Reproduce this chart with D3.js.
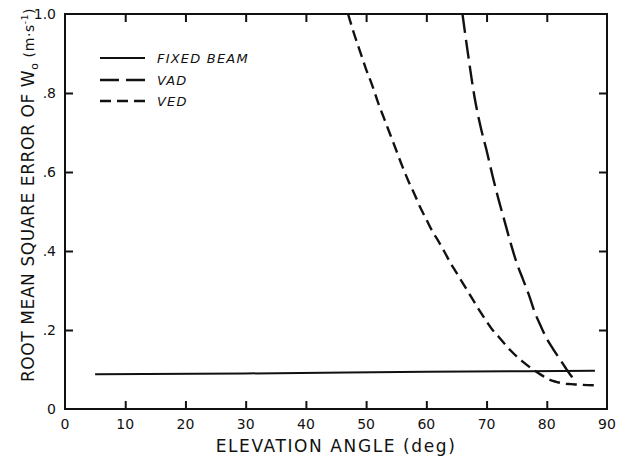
<!DOCTYPE html>
<html>
<head>
<meta charset="utf-8">
<script src="https://cdn.jsdelivr.net/npm/d3@7"></script>
<style>
  body { margin: 0; background: #fff; }
  svg { display: block; }
  text { font-family: "DejaVu Sans", sans-serif; fill: #111; }
</style>
</head>
<body>
<svg id="chart" width="618" height="456"></svg>
<script>
// elevation angle (deg) and rms error (m/s)
var fixedElev = [5, 30, 60, 88];
var fixedErr = [0.088, 0.090, 0.094, 0.097];

var vadElev = [66, 67, 68, 69, 70, 71, 72, 73, 74, 75, 76, 77, 78, 79, 80, 81, 82, 83, 84, 84.5];
var vadErr = [1.0, 0.89, 0.79, 0.715, 0.655, 0.59, 0.53, 0.475, 0.42, 0.37, 0.33, 0.29, 0.245, 0.21, 0.178, 0.153, 0.13, 0.107, 0.085, 0.076];

var vedElev = [47, 48, 49, 50, 51, 52, 53, 54, 55, 56, 57, 58, 59, 60, 61, 62, 63, 64, 65, 66, 67, 68, 69, 70,
               71, 72, 73, 74, 75, 76, 77, 78, 79, 80, 81, 82, 83, 84, 86, 88];
var vedErr = [1.0, 0.95, 0.905, 0.86, 0.82, 0.775, 0.735, 0.695, 0.655, 0.615, 0.578, 0.545, 0.51, 0.48, 0.45, 0.425,
              0.398, 0.37, 0.345, 0.32, 0.295, 0.27, 0.245, 0.222, 0.2, 0.183, 0.165, 0.148, 0.133, 0.12, 0.108, 0.097,
              0.087, 0.078, 0.071, 0.067, 0.064, 0.063, 0.061, 0.06];

var xTicks = [0, 10, 20, 30, 40, 50, 60, 70, 80, 90];
var yTicks = [0, 0.2, 0.4, 0.6, 0.8, 1.0];
var yTickLabels = ['0', '.2', '.4', '.6', '.8', '1.0'];

var seriesNames = ['FIXED BEAM', 'VAD', 'VED'];
var seriesDash = [null, '19,7', '11,6'];

var plotL = 65, plotR = 607, plotT = 14, plotB = 409;

var svg = d3.select('#chart');

var x = d3.scaleLinear().domain([0, 90]).range([plotL, plotR]);
var y = d3.scaleLinear().domain([0, 1]).range([plotB, plotT]);

// frame
svg.append('rect')
    .attr('x', plotL).attr('y', plotT)
    .attr('width', plotR - plotL).attr('height', plotB - plotT)
    .attr('fill', 'none').attr('stroke', '#111').attr('stroke-width', 2);

// inward ticks on all four sides
var tickLen = 8;
function noDomain(g){ g.select('.domain').remove(); }
svg.append('g').attr('transform', 'translate(0,' + plotB + ')')
    .call(d3.axisTop(x).tickValues(xTicks.slice(1, -1)).tickSize(tickLen).tickFormat(''))
    .call(noDomain);
svg.append('g').attr('transform', 'translate(0,' + plotT + ')')
    .call(d3.axisBottom(x).tickValues(xTicks.slice(1, -1)).tickSize(tickLen).tickFormat(''))
    .call(noDomain);
svg.append('g').attr('transform', 'translate(' + plotL + ',0)')
    .call(d3.axisRight(y).tickValues(yTicks.slice(1, -1)).tickSize(tickLen).tickFormat(''))
    .call(noDomain);
svg.append('g').attr('transform', 'translate(' + plotR + ',0)')
    .call(d3.axisLeft(y).tickValues(yTicks.slice(1, -1)).tickSize(tickLen).tickFormat(''))
    .call(noDomain);
svg.selectAll('.tick line').attr('stroke', '#111').attr('stroke-width', 2);

// tick labels
svg.append('g').selectAll('text')
    .data(xTicks)
    .enter().append('text')
    .attr('x', function(d){ return x(d); })
    .attr('y', plotB + 20)
    .attr('text-anchor', 'middle')
    .style('font-size', '14px')
    .text(function(d){ return d; });

svg.append('g').selectAll('text')
    .data(yTicks)
    .enter().append('text')
    .attr('x', plotL - 9)
    .attr('y', function(d){ return y(d) + 5; })
    .attr('text-anchor', 'end')
    .style('font-size', '14px')
    .text(function(d, i){ return yTickLabels[i]; });

// axis titles
svg.append('text')
    .attr('x', 336).attr('y', 452)
    .attr('text-anchor', 'middle')
    .style('font-size', '17px')
    .style('letter-spacing', '1.6px')
    .text('ELEVATION ANGLE (deg)');

var yt = svg.append('text')
    .attr('transform', 'translate(34,195) rotate(-90)')
    .attr('text-anchor', 'middle')
    .style('font-size', '17px')
    .style('letter-spacing', '0.6px');
yt.append('tspan').text('ROOT MEAN SQUARE ERROR OF W');
yt.append('tspan').attr('dy', 4).style('font-size', '11px').text('o');
yt.append('tspan').attr('dy', -4).style('font-size', '14px').text(' (m·s');
yt.append('tspan').attr('dy', -6).style('font-size', '9px').text('-1');
yt.append('tspan').attr('dy', 6).style('font-size', '14px').text(')');

// curves
var line = d3.line()
    .x(function(d){ return x(d[0]); })
    .y(function(d){ return y(d[1]); })
    .curve(d3.curveMonotoneX);

var series = [
    d3.zip(fixedElev, fixedErr),
    d3.zip(vadElev, vadErr),
    d3.zip(vedElev, vedErr)
];

series.forEach(function(s, i){
    svg.append('path')
        .datum(s)
        .attr('d', line)
        .attr('fill', 'none')
        .attr('stroke', '#111')
        .attr('stroke-width', i === 0 ? 2 : 2.4)
        .attr('stroke-dasharray', seriesDash[i]);
});

// legend
var legendY = [58, 80, 101];
seriesNames.forEach(function(name, i){
    svg.append('line')
        .attr('x1', 100).attr('x2', 145)
        .attr('y1', legendY[i]).attr('y2', legendY[i])
        .attr('stroke', '#111')
        .attr('stroke-width', i === 0 ? 2 : 2.4)
        .attr('stroke-dasharray', seriesDash[i]);
    svg.append('text')
        .attr('x', 157).attr('y', legendY[i] + 5)
        .style('font-size', '13px')
        .style('font-style', 'italic')
        .style('letter-spacing', '1.2px')
        .text(name);
});
</script>
</body>
</html>
